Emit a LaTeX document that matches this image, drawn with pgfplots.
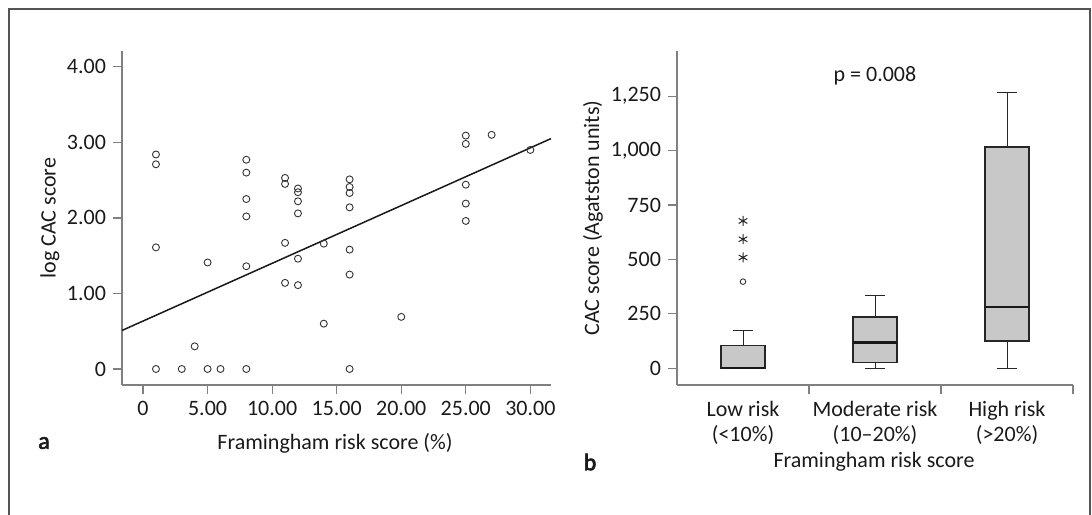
\documentclass[border=0pt]{standalone}
\usepackage{pgfplots}
\pgfplotsset{compat=1.18}
\usepackage{fontspec}
\setmainfont{Carlito}
\newfontfamily\boldlab{Carlito}[FakeBold=2.5]
\definecolor{axgray}{HTML}{808080}
\definecolor{txt}{HTML}{1A1A1A}
\definecolor{boxfill}{HTML}{C8C8C8}
\definecolor{framegray}{HTML}{555555}
\begin{document}
\begin{tikzpicture}[font=\fontsize{11}{12.5}\selectfont, text=txt]
\useasboundingbox (0,0) rectangle (546pt,257pt);
\draw[framegray, line width=1pt] (4.5pt,-3pt) -- (4.5pt,252.5pt) -- (545pt,252.5pt) -- (545pt,-3pt);
\pgfplotsset{myaxis/.style={scale only axis, axis x line*=bottom, axis y line*=left,
  axis line style={draw=axgray,line width=0.75pt}, tick align=outside,
  major tick length=4.5pt, minor tick length=4.5pt,
  tick style={draw=axgray,line width=0.6pt},
  tick label style={font=\fontsize{11}{12.5}\selectfont, text=txt}, clip=false}}

\begin{axis}[myaxis, at={(61pt,64.5pt)}, anchor=south west, width=214.5pt, height=167pt,
  xmin=-1.63, xmax=31.6, ymin=-0.212, ymax=4.21,
  xtick={0,5,10,15,20,25,30}, xticklabels={0,5.00,10.00,15.00,20.00,25.00,30.00},
  ytick={0,1,2,3,4}, yticklabels={0,1.00,2.00,3.00,4.00}]
\addplot[only marks, mark=o, mark size=1.75pt, mark options={line width=0.45pt, draw=black!80}] coordinates {
(1,2.84) (1,2.71) (1,1.61) (1,0)
(3,0) (4,0.30) (5,0) (5,1.41) (6,0)
(8,0) (8,1.36) (8,2.02) (8,2.25) (8,2.60) (8,2.77)
(11,2.53) (11,2.45) (11,1.67) (11,1.14)
(12,2.39) (12,2.34) (12,2.22) (12,2.06) (12,1.46) (12,1.11)
(14,1.66) (14,0.60)
(16,2.51) (16,2.41) (16,2.33) (16,2.14) (16,1.58) (16,1.25) (16,0)
(20,0.69)
(25,3.09) (25,2.98) (25,2.44) (25,2.19) (25,1.96)
(27,3.10) (30,2.90)};
\addplot[black!90, line width=0.75pt] coordinates {(-1.63,0.51) (31.6,3.05)};
\end{axis}

\begin{axis}[myaxis, at={(338.5pt,64.5pt)}, anchor=south west, width=198pt, height=167pt,
  xmin=0.5, xmax=3.5, ymin=-77, ymax=1458,
  xtick={1,2,3}, xticklabels={{Low risk\\(<10\%)},{Moderate risk\\(10–20\%)},{High risk\\(>20\%)}},
  xticklabel style={align=center}, major x tick style={draw=none},
  minor xtick={1.5,2.5,3.5},
  ytick={0,250,500,750,1000,1250}, yticklabels={0,250,500,750,{1,000},{1,250}}]
% whiskers (thin)
\addplot[black!85, line width=0.45pt] coordinates {(1,104) (1,176)};
\addplot[black!85, line width=0.45pt] coordinates {(0.9275,176) (1.0725,176)};
\addplot[black!85, line width=0.45pt] coordinates {(2,236) (2,335)};
\addplot[black!85, line width=0.45pt] coordinates {(1.9275,335) (2.0725,335)};
\addplot[black!85, line width=0.45pt] coordinates {(2,26) (2,0)};
\addplot[black!85, line width=0.45pt] coordinates {(1.9275,0) (2.0725,0)};
\addplot[black!85, line width=0.45pt] coordinates {(3,1017) (3,1267)};
\addplot[black!85, line width=0.45pt] coordinates {(2.9275,1267) (3.0725,1267)};
\addplot[black!85, line width=0.45pt] coordinates {(3,125) (3,0)};
\addplot[black!85, line width=0.45pt] coordinates {(2.9275,0) (3.0725,0)};
% boxes (quartiles)
\addplot[draw=black!85, fill=boxfill, line width=0.75pt] coordinates {(0.833,0) (1.167,0) (1.167,104) (0.833,104) (0.833,0)} -- cycle;
\addplot[draw=black!85, fill=boxfill, line width=0.75pt] coordinates {(1.833,26) (2.167,26) (2.167,236) (1.833,236) (1.833,26)} -- cycle;
\addplot[draw=black!85, fill=boxfill, line width=0.75pt] coordinates {(2.833,125) (3.167,125) (3.167,1017) (2.833,1017) (2.833,125)} -- cycle;
% medians
\addplot[black!90, line width=1.2pt] coordinates {(0.833,0) (1.167,0)};
\addplot[black!90, line width=1.2pt] coordinates {(1.833,118) (2.167,118)};
\addplot[black!90, line width=1.2pt] coordinates {(2.833,282) (3.167,282)};
% outliers
\addplot[only marks, mark=o, mark size=1.4pt, mark options={line width=0.45pt, draw=black!80}] coordinates {(1,398)};
\addplot[only marks, mark=asterisk, mark size=2.5pt, mark options={line width=0.5pt, draw=black!85}] coordinates {(1,509) (1,593) (1,677)};
\node[text=txt] at (axis cs:2,1343) {p = 0.008};
\end{axis}

\node at (22pt,35.5pt) {\fontsize{12}{14}\boldlab a};
\node at (295pt,26pt) {\fontsize{12}{14}\boldlab b};
\node at (167.5pt,35.5pt) {Framingham risk score (\%)};
\node[rotate=90] at (25pt,148pt) {log CAC score};
\node[rotate=90] at (296.5pt,148pt) {CAC score (Agatston units)};
\node at (437pt,26pt) {Framingham risk score};
\end{tikzpicture}
\end{document}
